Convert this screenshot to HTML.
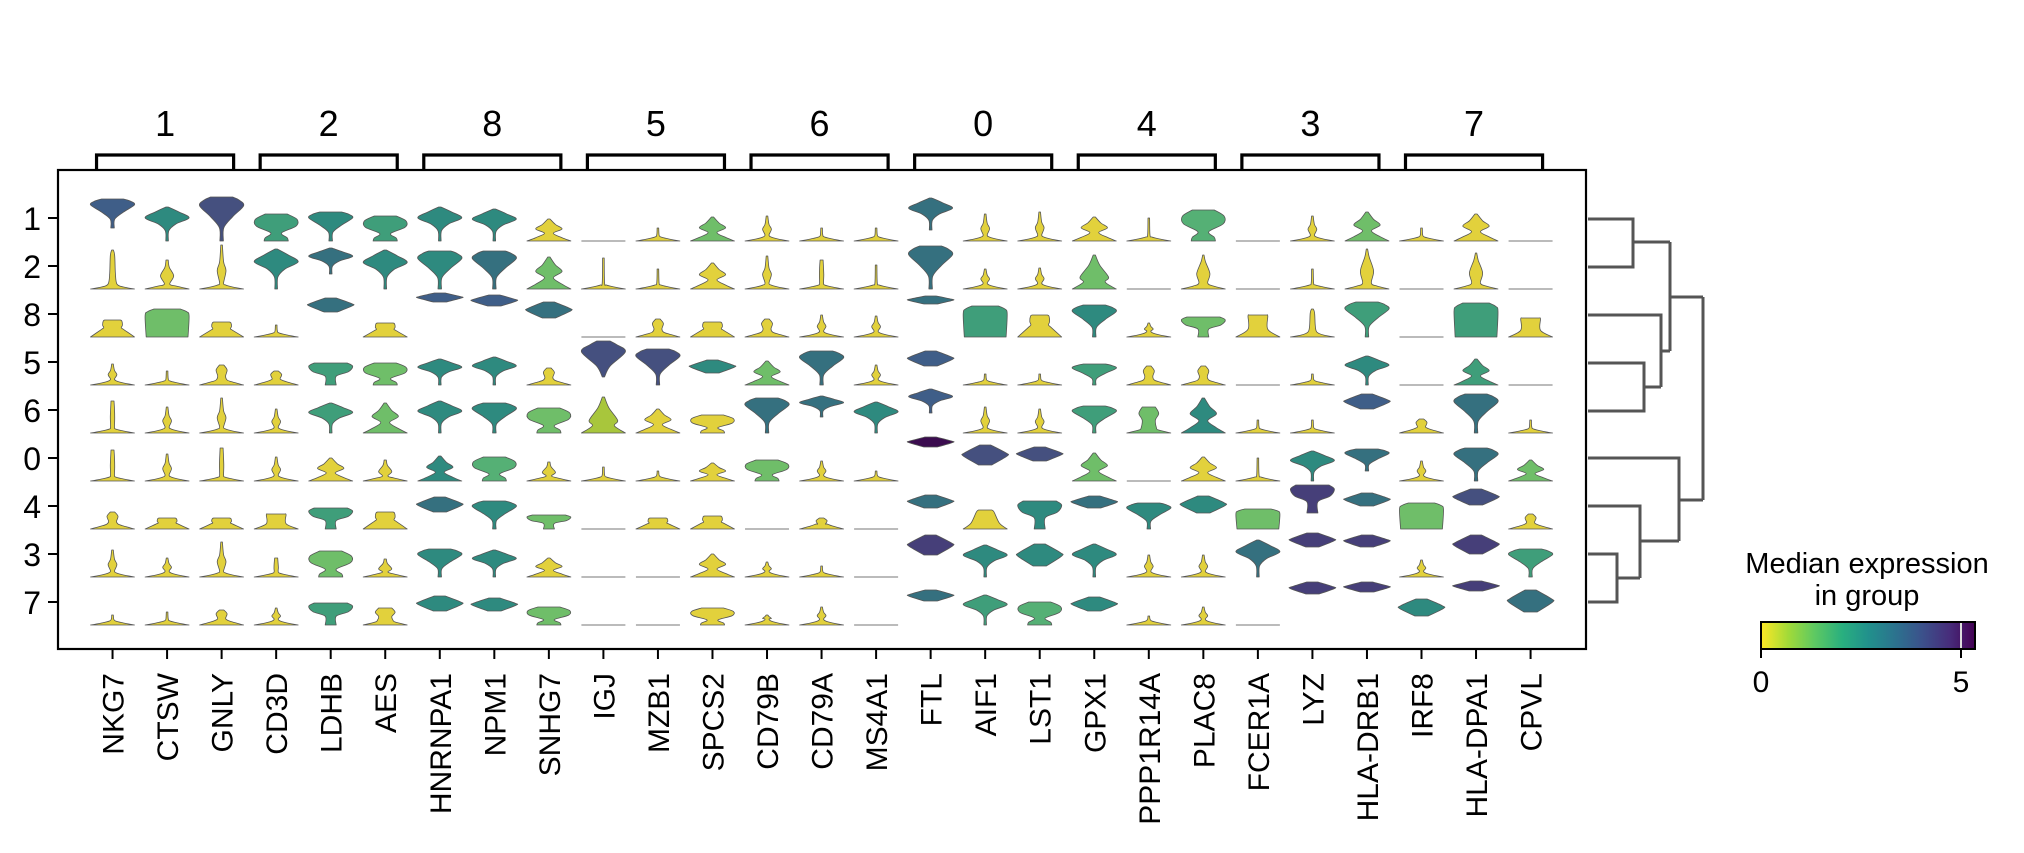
<!DOCTYPE html>
<html><head><meta charset="utf-8"><style>html,body{margin:0;padding:0;background:#fff}svg{display:block}text{font-family:"Liberation Sans",Arial,sans-serif;fill:#000}</style></head>
<body>
<svg id="s" xmlns="http://www.w3.org/2000/svg" width="2024" height="853" viewBox="0 0 2024 853">
<defs><linearGradient id="vir" x1="0" x2="1" y1="0" y2="0">
<stop offset="0" stop-color="#fde725"/><stop offset="0.13" stop-color="#a0da39"/><stop offset="0.25" stop-color="#5ec962"/><stop offset="0.38" stop-color="#29af7f"/><stop offset="0.5" stop-color="#21918c"/><stop offset="0.63" stop-color="#2c728e"/><stop offset="0.75" stop-color="#3b528b"/><stop offset="0.88" stop-color="#472d7b"/><stop offset="1" stop-color="#440154"/></linearGradient></defs>
<g id="v"></g>
<rect x="58" y="170" width="1528" height="479" fill="none" stroke="#000" stroke-width="2.2"/>
<g id="ax"></g>
<g fill="none" stroke="#555" stroke-width="3">
<path d="M1588 219H1633V267H1588M1633 242H1670"/>
<path d="M1588 363H1644V411H1588M1644 387H1661"/>
<path d="M1588 315H1661V387M1661 351H1670M1670 242V351M1670 297H1703"/>
<path d="M1588 554H1617V602H1588M1617 578H1640"/>
<path d="M1588 506H1640V578M1640 541H1679"/>
<path d="M1588 458H1679V541M1679 500H1703M1703 297V500"/>
</g>
<text x="1867" y="573" font-size="29" text-anchor="middle">Median expression</text>
<text x="1867" y="605" font-size="29" text-anchor="middle">in group</text>
<rect x="1761" y="622" width="214" height="27" fill="url(#vir)"/>
<line x1="1961" y1="622" x2="1961" y2="649" stroke="#ddd" stroke-width="2"/>
<rect x="1761" y="622" width="214" height="27" fill="none" stroke="#000" stroke-width="2"/>
<line x1="1761" y1="649" x2="1761" y2="658" stroke="#000" stroke-width="2"/>
<line x1="1961" y1="649" x2="1961" y2="658" stroke="#000" stroke-width="2"/>
<text x="1761" y="692" font-size="30" text-anchor="middle">0</text>
<text x="1961" y="692" font-size="30" text-anchor="middle">5</text>
</svg>
<script>
var W=22;
var COL={Y:'#e2d13c',L:'#a8c63c',G:'#6fbe69',E:'#3f9e7a',T:'#2e8a7f',C:'#35707f',B:'#3f5e88',I:'#45507f',P:'#463f79',D:'#3b0c4f',F:'#55b075'};
function baseProf(t,H){
 switch(t){
 case's':return[[0,W],[2,W*.5],[4,3],[6,1.2],[H,0.8]];
 case'n':return[[0,W],[2,W*.5],[4,3],[6,2],[H*.5,2.2],[H,1.5]];
 case'b':return[[0,W],[2,W*.5],[4,4],[6,2],[H*.35+3,W*.2],[H*.55+3,2],[H,0.8]];
 case'b2':return[[0,W],[3,W*.4],[5,W*.12],[H*.45,W*.3],[H*.75,W*.1],[H,W*.05]];
 case'p':return[[0,W],[2,W*.5],[5,W*.2],[H*.4,W*.13],[H*.85,W*.1],[H,W*.04]];
 case'k':return[[0,W],[3,W*.5],[5,W*.25],[H*.45,W*.18],[H*.75,W*.25],[H,W*.1]];
 case'kb':return[[0,W],[3,W*.45],[5,W*.35],[H*.5,W*.3],[H*.75,W*.45],[H,W*.3]];
 case't':return[[0,W],[H*.45,W*.5],[H*.55,W*.4],[H*.7,W*.45],[H*.95,W*.42],[H,W*.35]];
 case'tb':return[[0,W],[H*.35,W*.45],[H*.95,W*.45],[H,W*.4]];
 case'trap':return[[0,W],[H*.3,W*.65],[H*.9,W*.4],[H,W*.3]];
 case'hg':return[[0,W*.55],[H*.12,W*.5],[H*.3,W*.25],[H*.55,W*.9],[H*.8,W*.95],[H,W*.5]];
 case'hgd':return[[0,W],[H*.15,W*.6],[H*.35,W*.2],[H*.55,W*.6],[H*.75,W*.3],[H,W*.05]];
 case'sp':return[[0,W],[3,W*.45],[6,W*.2],[H*.45,W*.3],[H*.8,W*.1],[H,W*.03]];
 case'pyr':return[[0,W],[H*.2,W*.5],[H*.35,W*.65],[H*.7,W*.25],[H,W*.05]];
 }
 return null;
}
var FP={
 dia:[[0,.06],[.3,.08],[.5,.4],[.68,1],[.85,.55],[1,.05]],
 bowl:[[0,.08],[.3,.1],[.55,.5],[.8,1],[.93,.8],[1,.5]],
 lens:[[0,.3],[.45,1],[.6,.95],[1,.25]],
 box:[[0,.95],[.75,1],[.9,.9],[1,.6]],
 cup:[[0,.25],[.4,.25],[.6,.8],[.85,1],[1,.75]],
 inv:[[0,.05],[.3,.3],[.7,1],[.9,.6],[1,.3]]
};
var D=[
[['bowl','B',13,42],['p','Y',39],['t','Y',17],['b','Y',21],['n','Y',32],['n','Y',31],['k','Y',17],['b','Y',27],['s','Y',10]],
[['dia','T',0,34],['b2','Y',29],['box','G',0,28],['s','Y',14],['b','Y',26],['b','Y',27],['t','Y',11],['b','Y',19],['s','Y',13]],
[['bowl','I',0,44],['b','Y',44],['t','Y',15],['k','Y',20],['b','Y',35],['n','Y',33],['t','Y',11],['b','Y',35],['k','Y',15]],
[['hg','E',27],['dia','T',0,40],['s','Y',12],['k','Y',14],['b','Y',24],['b','Y',24],['tb','Y',15],['n','Y',19],['b','Y',17]],
[['bowl','T',0,29],['dia','C',15,41],['lens','C',25,39],['cup','E',0,22],['dia','E',0,30],['hgd','Y',23],['cup','E',0,21],['hg','G',26],['cup','E',0,22]],
[['hg','E',25],['dia','T',0,39],['t','Y',14],['hg','G',22],['hgd','G',30],['b2','Y',21],['t','Y',17],['b2','Y',18],['kb','Y',17]],
[['dia','T',0,34],['bowl','T',0,38],['lens','B',35,44],['dia','T',0,26],['dia','T',0,32],['hgd','T',25],['lens','C',17,32],['bowl','T',0,28],['lens','T',14,29]],
[['dia','T',0,32],['bowl','C',0,38],['lens','B',31,42],['dia','T',0,28],['bowl','T',0,30],['hg','F',24],['bowl','T',0,28],['dia','T',0,27],['lens','T',14,27]],
[['hgd','Y',22],['hgd','G',32],['lens','C',19,35],['k','Y',17],['hg','G',25],['b2','Y',19],['cup','G',0,14],['hgd','Y',19],['hg','G',18]],
[['z'],['s','Y',31],['z'],['inv','I',8,44],['pyr','L',36],['s','Y',14],['z'],['z'],['z']],
[['s','Y',13],['s','Y',20],['k','Y',18],['bowl','I',0,36],['hgd','Y',24],['s','Y',10],['t','Y',11],['z'],['z']],
[['hgd','G',24],['hgd','Y',26],['t','Y',15],['lens','T',12,25],['hg','Y',18],['hgd','Y',18],['t','Y',13],['hgd','Y',23],['hg','Y',17]],
[['b','Y',25],['b','Y',33],['k','Y',18],['hgd','G',24],['bowl','C',0,35],['hg','G',21],['z'],['b','Y',15],['b','Y',10]],
[['s','Y',13],['n','Y',29],['b','Y',22],['bowl','C',0,34],['dia','C',16,37],['b','Y',20],['k','Y',11],['s','Y',11],['b','Y',18]],
[['s','Y',13],['s','Y',24],['b','Y',21],['b','Y',20],['dia','T',0,31],['s','Y',10],['z'],['z'],['z']],
[['dia','C',11,43],['bowl','C',0,43],['lens','C',33,41],['lens','B',19,34],['dia','B',20,44],['lens','D',34,44],['lens','C',21,34],['lens','P',22,42],['lens','C',24,35]],
[['b','Y',27],['b','Y',20],['box','E',0,31],['s','Y',11],['b','Y',26],['lens','I',16,36],['trap','Y',19],['dia','T',0,32],['dia','E',0,30]],
[['b','Y',29],['b','Y',21],['t','Y',22],['s','Y',11],['b','Y',24],['lens','I',20,34],['cup','T',0,28],['lens','T',11,33],['hg','F',23]],
[['hgd','Y',24],['pyr','G',34],['bowl','T',0,32],['bowl','E',0,21],['bowl','E',0,27],['hgd','G',28],['lens','C',21,33],['dia','T',0,33],['lens','T',14,28]],
[['s','Y',23],['z'],['b','Y',14],['k','Y',19],['kb','G',26],['z'],['bowl','T',0,26],['b','Y',22],['s','Y',9]],
[['hg','F',31],['sp','Y',34],['cup','G',0,20],['k','Y',19],['hgd','T',35],['hgd','Y',24],['lens','T',16,33],['b','Y',22],['b','Y',18]],
[['z'],['z'],['tb','Y',22],['z'],['s','Y',13],['s','Y',23],['box','G',0,20],['dia','C',0,37],['z']],
[['b','Y',25],['s','Y',20],['p','Y',28],['s','Y',11],['s','Y',13],['dia','T',0,30],['cup','P',16,44],['lens','P',30,44],['lens','P',31,43]],
[['hgd','G',29],['sp','Y',40],['bowl','E',0,35],['dia','T',0,29],['lens','B',24,39],['bowl','C',10,32],['lens','C',23,36],['lens','P',30,42],['lens','P',33,43]],
[['s','Y',13],['z'],['z'],['z'],['k','Y',14],['b','Y',20],['box','G',0,26],['b','Y',17],['lens','T',9,26]],
[['hgd','Y',27],['sp','Y',36],['box','E',0,34],['hgd','E',26],['bowl','C',0,39],['bowl','C',0,33],['lens','I',24,40],['lens','P',23,42],['lens','P',34,44]],
[['z'],['z'],['tb','Y',19],['z'],['s','Y',13],['hgd','G',21],['k','Y',15],['bowl','E',0,28],['lens','C',13,35]]
];
var genes=['NKG7','CTSW','GNLY','CD3D','LDHB','AES','HNRNPA1','NPM1','SNHG7','IGJ','MZB1','SPCS2','CD79B','CD79A','MS4A1','FTL','AIF1','LST1','GPX1','PPP1R14A','PLAC8','FCER1A','LYZ','HLA-DRB1','IRF8','HLA-DPA1','CPVL'];
var rows=['1','2','8','5','6','0','4','3','7'];
function cx(i){return 58+(i+1)*54.54;}
function ry(r){return 218+48*r;}
function smooth(P){
 var s='M'+P[0][0].toFixed(1)+' '+P[0][1].toFixed(1);
 for(var i=0;i<P.length-1;i++){
  var p0=P[i>0?i-1:i],p1=P[i],p2=P[i+1],p3=P[i+2<P.length?i+2:i+1];
  var c1x=p1[0]+(p2[0]-p0[0])/6,c1y=p1[1]+(p2[1]-p0[1])/6;
  var c2x=p2[0]-(p3[0]-p1[0])/6,c2y=p2[1]-(p3[1]-p1[1])/6;
  s+=' C'+c1x.toFixed(1)+' '+c1y.toFixed(1)+' '+c2x.toFixed(1)+' '+c2y.toFixed(1)+' '+p2[0].toFixed(1)+' '+p2[1].toFixed(1);
 }
 return s;
}
var html='';
for(var c=0;c<27;c++){
 var x=cx(c);
 for(var r=0;r<9;r++){
  var d=D[c][r],base=ry(r)+23;
  if(d[0]=='z'){html+='<line x1="'+(x-W)+'" y1="'+base+'" x2="'+(x+W)+'" y2="'+base+'" stroke="#777" stroke-width="1"/>';continue;}
  var pts=baseProf(d[0],d[2]);
  if(!pts){var B=d[2],T=d[3];pts=FP[d[0]].map(function(p){return[B+(T-B)*p[0],W*p[1]];});}
  var R=pts.map(function(p){return[x+p[1],base-p[0]];});
  var L=pts.slice().reverse().map(function(p){return[x-p[1],base-p[0]];});
  var s=smooth(R)+' L'+L[0][0].toFixed(1)+' '+L[0][1].toFixed(1)+smooth(L).replace(/^M[^C]*/,' ')+'Z';
  html+='<path d="'+s+'" fill="'+COL[d[1]]+'" stroke="#555" stroke-width="0.8" stroke-linejoin="round"/>';
 }
}
document.getElementById('v').innerHTML=html;
var a='';
for(var c=0;c<27;c++){
 var x=cx(c);
 a+='<line x1="'+x+'" y1="649" x2="'+x+'" y2="659" stroke="#000" stroke-width="2"/>';
 a+='<text font-size="30" text-anchor="end" transform="translate('+(x+11)+',673) rotate(-90)">'+genes[c]+'</text>';
}
for(var r=0;r<9;r++){
 var y=ry(r);
 a+='<line x1="48" y1="'+y+'" x2="58" y2="'+y+'" stroke="#000" stroke-width="2"/>';
 a+='<text x="41" y="'+(y+12)+'" font-size="32" text-anchor="end">'+rows[r]+'</text>';
}
for(var g=0;g<9;g++){
 var x0=cx(3*g)-16,x1=cx(3*g+2)+12;
 a+='<path d="M'+x0+' 170V155H'+x1+'V170" fill="none" stroke="#000" stroke-width="3.2"/>';
 a+='<text x="'+((x0+x1)/2)+'" y="136" font-size="36" text-anchor="middle">'+rows[g]+'</text>';
}
document.getElementById('ax').innerHTML=a;
</script>
</body></html>
